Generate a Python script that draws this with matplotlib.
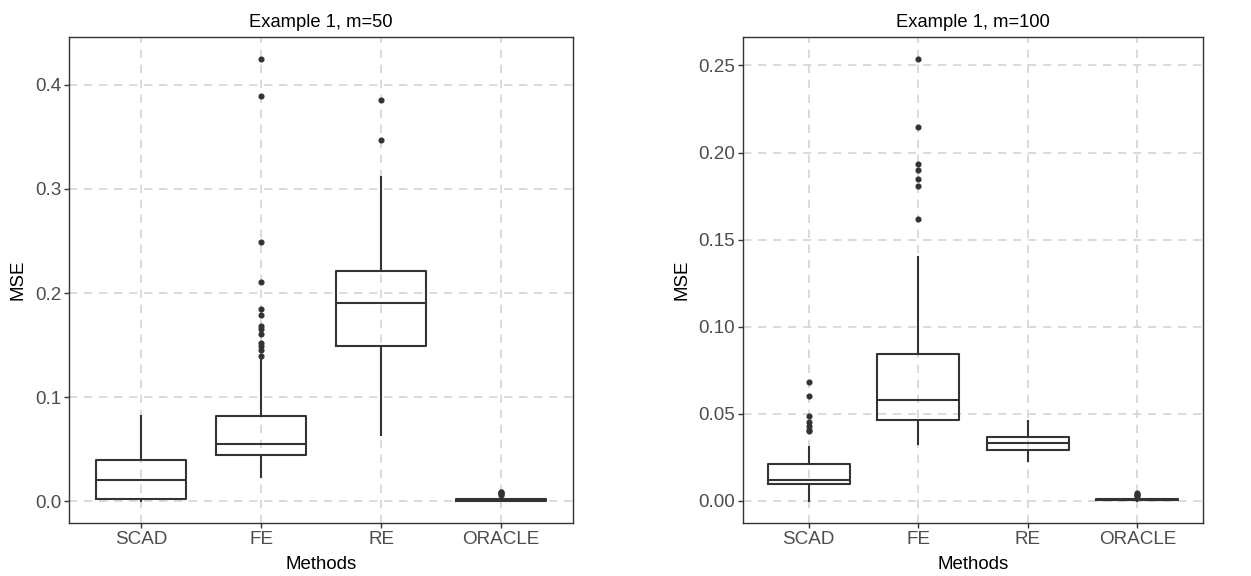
import matplotlib
matplotlib.use("Agg")
import matplotlib.pyplot as plt
from matplotlib.ticker import FixedLocator

plt.rcParams['font.family'] = ['Liberation Sans', 'DejaVu Sans']

methods = ["SCAD", "FE", "RE", "ORACLE"]

# Example 1, m=50 : whisker low, Q1, median, Q3, whisker high, outliers
m50_whislo = [0.0005, 0.0228, 0.0635, 0.0002]
m50_q1 = [0.0016, 0.0439, 0.149, 0.0006]
m50_med = [0.020, 0.0548, 0.190, 0.0010]
m50_q3 = [0.040, 0.0817, 0.2212, 0.0016]
m50_whishi = [0.0817, 0.1356, 0.311, 0.0035]
m50_fliers = [
    [],
    [0.4247, 0.3897, 0.2488, 0.2103, 0.185, 0.179, 0.168, 0.165, 0.161,
     0.152, 0.149, 0.145, 0.139],
    [0.3856, 0.3468],
    [0.0055, 0.0065, 0.0075, 0.0085, 0.009],
]

# Example 1, m=100
m100_whislo = [0.0, 0.0328, 0.023, 0.0001]
m100_q1 = [0.0100, 0.0462, 0.0295, 0.0004]
m100_med = [0.0123, 0.058, 0.033, 0.0007]
m100_q3 = [0.0215, 0.0843, 0.037, 0.0011]
m100_whishi = [0.031, 0.1402, 0.046, 0.0022]
m100_fliers = [
    [0.0682, 0.0603, 0.049, 0.0456, 0.0429, 0.0410, 0.0399],
    [0.2537, 0.2144, 0.1933, 0.190, 0.185, 0.181, 0.162],
    [],
    [0.0028, 0.0034, 0.0039, 0.0043],
]

W, H = 1251, 576
fig = plt.figure(figsize=(W / 100, H / 100), dpi=100)

box_color = "#333333"
grid_color = "#d4d4d4"
tick_color = "#4d4d4d"


def make_panel(rect, title, lo, q1, med, q3, hi, fl, yticks, yfmt, ylim):
    ax = fig.add_axes(rect)
    stats = []
    for i in range(len(methods)):
        stats.append(dict(whislo=lo[i], q1=q1[i], med=med[i], q3=q3[i],
                          whishi=hi[i], fliers=fl[i], label=methods[i]))
    ax.set_axisbelow(True)
    ax.bxp(stats, positions=range(1, len(methods) + 1), widths=0.75,
           showcaps=False,
           boxprops=dict(color=box_color, linewidth=1.5),
           medianprops=dict(color=box_color, linewidth=1.5),
           whiskerprops=dict(color=box_color, linewidth=1.5),
           flierprops=dict(marker='o', markersize=3.4, markerfacecolor=box_color,
                           markeredgecolor=box_color, linestyle='none'))
    ax.set_xlim(0.4, len(methods) + 0.6)
    ax.set_ylim(*ylim)
    ax.yaxis.set_major_locator(FixedLocator(yticks))
    ax.set_yticklabels([yfmt.format(v) for v in yticks])
    ax.set_xticks(range(1, len(methods) + 1))
    ax.set_xticklabels(methods)
    ax.grid(True, color=grid_color, linestyle=(0, (5, 4)), linewidth=1.2)
    for s in ax.spines.values():
        s.set_color("#333333")
        s.set_linewidth(1.0)
    ax.tick_params(axis='both', colors="#333333", labelcolor=tick_color,
                   labelsize=13.6, length=3.5, width=1.0, pad=2.0)
    ax.set_title(title, fontsize=13.2, pad=7)
    ax.set_xlabel("Methods", fontsize=13.4, labelpad=6)
    ax.set_ylabel("MSE", fontsize=13.4, labelpad=6)
    return ax


make_panel([69 / W, 1 - 523 / H, (573 - 69) / W, (523 - 37) / H],
           "Example 1, m=50", m50_whislo, m50_q1, m50_med, m50_q3, m50_whishi,
           m50_fliers, [0.0, 0.1, 0.2, 0.3, 0.4], "{:.1f}", (-0.021, 0.446))

make_panel([743 / W, 1 - 523 / H, (1203 - 743) / W, (523 - 37) / H],
           "Example 1, m=100", m100_whislo, m100_q1, m100_med, m100_q3, m100_whishi,
           m100_fliers, [0.0, 0.05, 0.10, 0.15, 0.20, 0.25], "{:.2f}", (-0.01264, 0.2663))

fig.savefig("out.png", dpi=100, facecolor="white")
